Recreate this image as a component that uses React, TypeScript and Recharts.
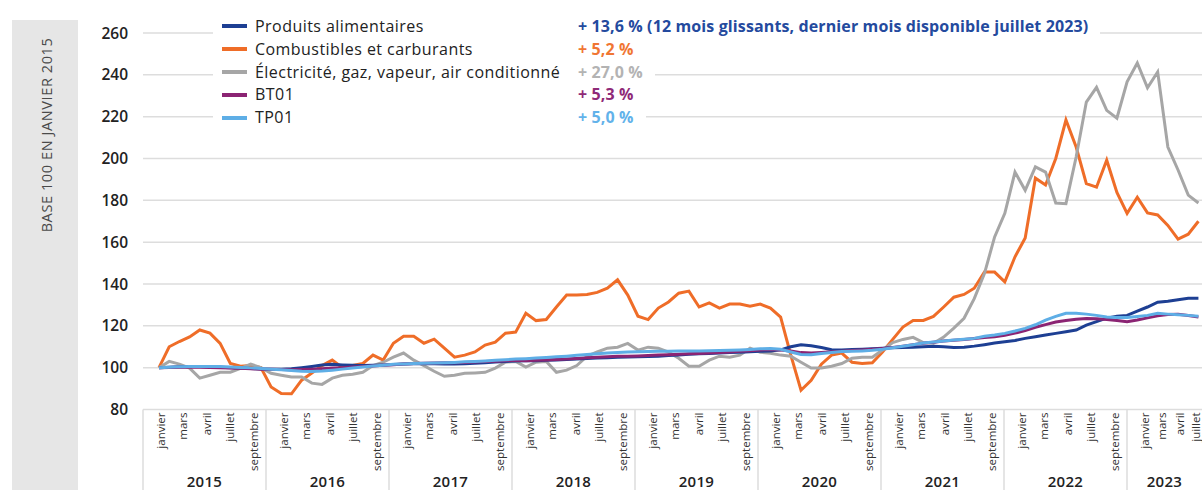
import { CartesianGrid, Legend, Line, LineChart, XAxis, YAxis } from "recharts";

// Indices base 100 en janvier 2015, mensuels de janvier 2015 à juillet 2023 (103 mois).
const YEARS = ["2015", "2016", "2017", "2018", "2019", "2020", "2021", "2022", "2023"];
const MONTH_NAMES = ["janvier", "mars", "avril", "juillet", "septembre"];
const Y_TICKS = [80, 100, 120, 140, 160, 180, 200, 220, 240, 260];

const ALIMENTAIRES = [
  100, 100.2, 100.4, 100.5, 100.5, 100.4, 100.2, 100, 99.8, 99.6, 99.4, 99.3,
  99.3, 99.5, 100, 100.6, 101.3, 101.6, 101.3, 101.1, 101, 101.1, 101.3, 101.5,
  101.7, 101.9, 102, 101.9, 101.8, 101.8, 101.9, 102.1, 102.4, 102.7, 103, 103.2,
  103.3, 103.3, 103.5, 103.7, 103.9, 104.2, 104.4, 104.6, 104.8, 105, 105.1, 105.2,
  105.3, 105.5, 105.8, 106.1, 106.4, 106.6, 106.8, 107, 107.2, 107.4, 107.6, 107.8,
  108, 108.5, 110, 111, 110.5, 109.6, 108.6, 108.5, 108.7, 108.8, 109, 109.3,
  109.5, 109.6, 109.8, 110, 110.2, 110, 109.6, 109.8, 110.3, 111, 111.8, 112.4,
  113, 114, 114.8, 115.6, 116.4, 117.2, 118, 120.3, 122, 123.7, 124.6, 125,
  127, 129, 131.3, 131.8, 132.5, 133.2, 133.2,
];

const COMBUSTIBLES = [
  100, 110, 112.5, 114.7, 118, 116.5, 111.6, 102, 100.7, 101, 100, 90.8,
  87.6, 87.5, 94, 97.4, 101, 103.6, 100, 101, 102, 106, 103.6, 111.7,
  115, 115, 111.7, 113.6, 109.3, 105, 106, 107.5, 110.8, 112.2, 116.5, 117,
  126, 122.5, 123, 129, 134.7, 134.7, 135, 136, 138, 142, 134.7, 124.6,
  123, 128.5, 131.4, 135.6, 136.6, 129, 131, 128.5, 130.4, 130.4, 129.4, 130.4,
  128.5, 124.2, 106, 89.2, 94, 101.7, 106, 107, 102.6, 102, 102.3, 107.5,
  113.5, 119.4, 122.6, 122.6, 124.5, 129, 133.7, 135, 138, 145.7, 145.7, 141,
  153, 162, 190.6, 187.3, 200, 218.4, 205.5, 188, 186.3, 199.2, 183.8, 173.8,
  181.5, 174, 173, 168, 161.5, 163.8, 170,
];

const ELECTRICITE = [
  100, 103, 101.7, 99.8, 95, 96.4, 97.8, 97.8, 99.7, 101.7, 100, 97.3,
  96.4, 95.5, 95.5, 92.6, 92, 95, 96.4, 96.9, 97.8, 101, 102.6, 105,
  107, 103.6, 101, 98.3, 95.9, 96.4, 97.3, 97.5, 97.8, 99.8, 102.6, 103,
  100.3, 102.6, 103, 97.8, 98.8, 101, 105.5, 107.5, 109.3, 109.8, 111.6, 108.4,
  109.8, 109.3, 107.4, 104.5, 100.7, 100.7, 103.6, 105.5, 105, 106, 109.3, 107.4,
  106.9, 106, 105.5, 102.6, 99.8, 99.8, 100.7, 102, 104.5, 105, 105, 108.4,
  112, 113.5, 114.5, 112, 111.7, 114.6, 118.9, 123.6, 133, 145, 162.5, 173.8,
  193.5, 184.8, 196, 193.5, 178.7, 178.4, 200.7, 227, 234, 223, 219.3, 236.7,
  245.7, 233.8, 241.4, 205.5, 194.5, 182.5, 178.7,
];

const BT01 = [
  100, 100.1, 100.2, 100.2, 100.2, 100.1, 100, 99.9, 99.7, 99.5, 99.3, 99.2,
  99.1, 99, 99.1, 99.3, 99.5, 99.8, 100, 100.3, 100.5, 100.8, 101.1, 101.4,
  101.7, 102, 102.1, 102.2, 102.3, 102.4, 102.5, 102.7, 102.9, 103.1, 103.3, 103.5,
  103.3, 103.5, 103.7, 103.9, 104.1, 104.4, 104.7, 105, 105.2, 105.4, 105.5, 105.6,
  105.8, 106, 106.2, 106.4, 106.6, 106.8, 107, 107.2, 107.5, 107.8, 108.1, 108.5,
  108.7, 108.5, 108, 107.2, 107, 107.3, 107.6, 107.9, 108.2, 108.5, 108.8, 109.2,
  109.7, 110.3, 111, 111.7, 112.2, 112.7, 113.1, 113.5, 114, 114.4, 114.8, 115.5,
  116.5, 117.8, 119.3, 120.6, 121.8, 122.6, 123.2, 123.5, 123.4, 123, 122.5, 122,
  122.8, 123.8, 124.8, 125.4, 125.5, 124.9, 124.2,
];

const TP01 = [
  100, 100.2, 100.4, 100.5, 100.6, 100.6, 100.5, 100.3, 100.1, 99.9, 99.6, 99.3,
  99, 98.6, 98.3, 98.2, 98.4, 98.8, 99.3, 99.8, 100.3, 100.8, 101.2, 101.6,
  101.8, 102, 102.1, 102.2, 102.3, 102.5, 102.8, 103, 103.2, 103.5, 103.8, 104.1,
  104.3, 104.6, 104.9, 105.2, 105.5, 105.9, 106.3, 106.7, 107, 107.3, 107.5, 107.6,
  107.7, 107.8, 107.9, 108, 108, 108, 108.1, 108.2, 108.3, 108.5, 108.7, 109,
  109.2, 108.8, 107.5, 106.3, 106.2, 106.8, 107.3, 107.7, 107.8, 108, 108.3, 108.8,
  109.5, 110.2, 111, 111.8, 112.3, 112.8, 113.2, 113.6, 114, 115, 115.6, 116.4,
  117.5, 118.8, 120.5, 122.7, 124.5, 126, 126, 125.6, 125, 124.2, 124, 124,
  124.5, 125, 126, 125.6, 125.3, 125, 124.6,
];

const SERIES = [
  { key: "alim", name: "Produits alimentaires", values: ALIMENTAIRES, color: "#1d3f93", pctColor: "#244a9e",
    pct: "+ 13,6 % (12 mois glissants, dernier mois disponible juillet 2023)" },
  { key: "comb", name: "Combustibles et carburants", values: COMBUSTIBLES, color: "#ef6d28", pctColor: "#f07633", pct: "+ 5,2 %" },
  { key: "elec", name: "Électricité, gaz, vapeur, air conditionné", values: ELECTRICITE, color: "#a6a6a6", pctColor: "#b3b3b3", pct: "+ 27,0 %" },
  { key: "bt01", name: "BT01", values: BT01, color: "#8b2473", pctColor: "#8f2a78", pct: "+ 5,3 %" },
  { key: "tp01", name: "TP01", values: TP01, color: "#5eaee6", pctColor: "#62b2ea", pct: "+ 5,0 %" },
];

const DRAW_ORDER = ["comb", "elec", "alim", "bt01", "tp01"];

const FONT = "'Open Sans', 'DejaVu Sans', sans-serif";
const GRID = "#dddddd";

// l'axe des mois : x = nombre de mois depuis janvier 2015
const X_MIN = -1.57;
const X_MAX = 102.35;
const YEAR_STEP = 12.07;
const LABEL_OFFSETS = [0.1, 2.35, 4.65, 6.95, 9.25];
const LABEL_OFFSETS_LAST = [0.1, 1.8, 3.6, 5.15];

const rows = ALIMENTAIRES.map((_, i) => {
  const r: Record<string, number> = { i };
  SERIES.forEach((s) => (r[s.key] = s.values[i]));
  return r;
});

type TickInfo = { kind: "month" | "year" | "bound"; label: string };
const tickInfo = new Map<number, TickInfo>();
YEARS.forEach((yr, k) => {
  const start = k * YEAR_STEP;
  const bound = start + X_MIN;
  const next = k === YEARS.length - 1 ? X_MAX : bound + YEAR_STEP;
  tickInfo.set(bound, { kind: "bound", label: "" });
  tickInfo.set((bound + next) / 2, { kind: "year", label: yr });
  const offs = k === YEARS.length - 1 ? LABEL_OFFSETS_LAST : LABEL_OFFSETS;
  offs.forEach((o, j) => tickInfo.set(start + o, { kind: "month", label: MONTH_NAMES[j] }));
});
const X_TICKS = Array.from(tickInfo.keys()).sort((a, b) => a - b);

function XTick(props: any) {
  const { x, y, payload } = props;
  const t = tickInfo.get(payload.value);
  if (!t) return null;
  if (t.kind === "bound") {
    return <line x1={x} x2={x} y1={y} y2={y + 82} stroke={GRID} strokeWidth={1.5} />;
  }
  if (t.kind === "year") {
    return (
      <text x={x} y={y + 71} textAnchor="middle" dominantBaseline="central"
        fontFamily={FONT} fontSize={15} fontWeight={600} fill="#222" letterSpacing={0.3}>
        {t.label}
      </text>
    );
  }
  return (
    <text x={x} y={y + 3} transform={`rotate(-90 ${x} ${y + 3})`} textAnchor="end"
      dominantBaseline="central" fontFamily={FONT} fontSize={11.5} fill="#333">
      {t.label}
    </text>
  );
}

function SideLabel(props: any) {
  const vb = props.viewBox ?? { x: 68, y: 33 };
  const cx = vb.x - 22;
  const cy = vb.y + 102;
  return (
    <g>
      <rect x={vb.x - 56} y={vb.y - 13} width={66} height={490} fill="#e6e6e6" />
      <text x={cx} y={cy} transform={`rotate(-90 ${cx} ${cy})`} textAnchor="middle"
        dominantBaseline="central" fontFamily={FONT} fontSize={14.5} fill="#4a4a4a" letterSpacing={0.6}>
        BASE 100 EN JANVIER 2015
      </text>
    </g>
  );
}

function LegendBox() {
  return (
    <div style={{ fontFamily: FONT, fontSize: 16, lineHeight: "22.8px" }}>
      {SERIES.map((s) => (
        <div key={s.key} style={{ display: "flex", alignItems: "center", height: 22.8, background: "#fff",
          width: "fit-content", paddingLeft: 9, paddingRight: 12, whiteSpace: "nowrap" }}>
          <span style={{ display: "inline-block", width: 25, height: 4, background: s.color, marginRight: 8 }} />
          <span style={{ display: "inline-block", width: 323, color: "#222", fontWeight: 500, letterSpacing: 0.45 }}>
            {s.name}
          </span>
          <span style={{ color: s.pctColor, fontWeight: 700, letterSpacing: 0.12 }}>{s.pct}</span>
        </div>
      ))}
    </div>
  );
}

export default function App() {
  return (
    <div style={{ position: "absolute", left: 0, top: 0, width: 1202, height: 490, background: "#fff" }}>
      <LineChart width={1202} height={490} data={rows} margin={{ top: 33, right: 0, left: 68, bottom: 0 }}>
        <CartesianGrid horizontal vertical={false} stroke={GRID} strokeWidth={1.5} />
        <XAxis dataKey="i" type="number" domain={[X_MIN, X_MAX]} allowDataOverflow ticks={X_TICKS}
          interval={0} tick={<XTick />} tickLine={false} axisLine={false} tickSize={0} tickMargin={0} height={80.5} />
        <YAxis type="number" domain={[80, 260]} ticks={Y_TICKS} interval={0} width={75}
          tickLine={false} axisLine={false} tickSize={0} tickMargin={15}
          tick={{ fill: "#222", fontSize: 15.5, fontWeight: 600, fontFamily: FONT }}
          label={<SideLabel />} />
        <Legend layout="vertical" align="center" verticalAlign="middle" content={<LegendBox />}
          wrapperStyle={{ left: 213, top: 15, width: "auto" }} />
        {DRAW_ORDER.map((k) => {
          const s = SERIES.find((x) => x.key === k)!;
          return (
            <Line key={k} type="linear" dataKey={k} name={s.name} stroke={s.color} strokeWidth={3}
              dot={false} activeDot={false} isAnimationActive={false} />
          );
        })}
      </LineChart>
    </div>
  );
}
